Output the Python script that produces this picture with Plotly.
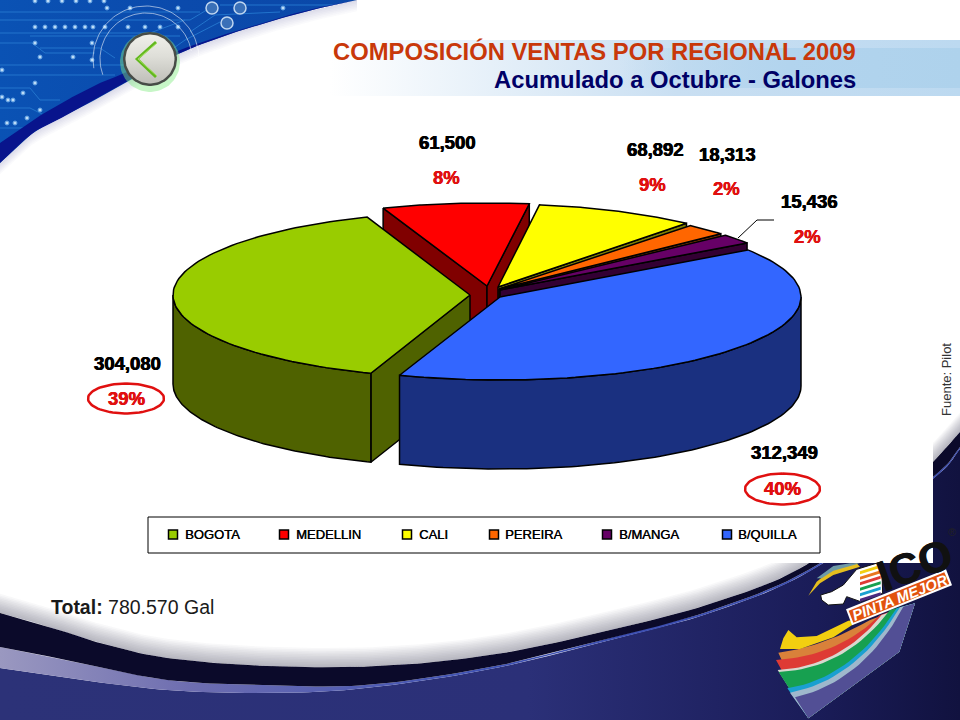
import numpy as np
import plotly.graph_objects as go

# ---------- chart data ----------
regions = ["BOGOTA", "MEDELLIN", "CALI", "PEREIRA", "B/MANGA", "B/QUILLA"]
galones = [304080, 61500, 68892, 18313, 15436, 312349]
top_colors = ["#99CC00", "#FF0000", "#FFFF00", "#FF6600", "#660066", "#3366FF"]
side_colors = ["#4F6200", "#800000", "#808000", "#803300", "#330033", "#1A3080"]
title_1 = "COMPOSICIÓN VENTAS POR REGIONAL 2009"
title_2 = "Acumulado a Octubre - Galones"
source_note = "Fuente: Pilot"
total_text = "<b>Total:</b> 780.570 Gal"

# ---------- pie geometry ----------
START_ANGLE = 199.5
RY, DEPTH = 83.0, 89.0
radii_x = [297, 300, 294, 297, 300, 301]
apexes = [(470, 295), (487, 286), (498, 287), (499, 289), (500, 290), (500, 297)]
paint_order = [1, 2, 3, 4, 0, 5]
value_label_pos = [(127, 363), (447, 142), (655, 149), (727, 154), (809, 201), (784, 452)]
pct_label_pos = [(126, 398), (446, 177), (652, 184), (726, 188), (807, 236), (782, 488)]
legend_swatch_x = [173, 284, 407, 494, 607, 727]
legend_text_x = [183, 294, 417, 503, 617, 736]

fig = go.Figure()


def poly(x, y, fill=None, line=None, width=0, grad=None):
    kw = dict(x=list(x), y=list(y), mode="lines", hoverinfo="skip", showlegend=False)
    if fill is not None or grad is not None:
        kw["fill"] = "toself"
    if fill is not None:
        kw["fillcolor"] = fill
    if grad is not None:
        kw["fillgradient"] = grad
    kw["line"] = dict(color=line or "rgba(0,0,0,0)", width=width)
    fig.add_trace(go.Scatter(**kw))


def smooth(pts, n=14):
    p = np.array(pts, float)
    p = np.vstack([2 * p[0] - p[1], p, 2 * p[-1] - p[-2]])
    out = []
    for i in range(1, len(p) - 2):
        for t in np.linspace(0, 1, n, endpoint=False):
            a, b, c, d = p[i - 1], p[i], p[i + 1], p[i + 2]
            out.append(0.5 * (2 * b + (c - a) * t + (2 * a - 5 * b + 4 * c - d) * t ** 2
                              + (3 * b - a - 3 * c + d) * t ** 3))
    out.append(p[-2])
    return np.array(out)


def circle(cx, cy, r, ry=None, a0=0, a1=360, n=80):
    t = np.radians(np.linspace(a0, a1, n))
    return cx + r * np.sin(t), cy - (ry or r) * np.cos(t)


def bez(a, c, b, n=24):
    t = np.linspace(0, 1, n)[:, None]
    a, b, c = map(lambda v: np.array(v, float), (a, b, c))
    return (1 - t) ** 2 * a + 2 * t * (1 - t) * c + t ** 2 * b


# ---------- slide background ----------
poly([0, 960, 960, 0, 0], [0, 0, 720, 720, 0], fill="#FFFFFF")

# circuit wedge, top left
poly([0, 365, 365, 0, 0], [0, 0, 170, 170, 0],
     grad=dict(type="horizontal", colorscale=[[0, "#0A52B4"], [0.5, "#0B4AAC"], [1, "#0A48A8"]]))
trace_lines = [
    [(0, 20), (190, 20), (215, 5)], [(0, 33), (120, 33), (150, 33), (185, 20)],
    [(0, 43), (32, 43), (45, 53), (95, 53)], [(0, 65), (150, 65), (185, 40), (220, 22)],
    [(0, 75), (115, 75)], [(0, 12), (200, 12)], [(30, 36), (180, 36)],
    [(0, 88), (30, 88), (40, 100), (60, 100)], [(0, 108), (30, 108), (50, 118)],
    [(190, 32), (215, 15), (280, 12)], [(40, 48), (100, 48), (115, 58)],
    [(0, 128), (25, 128), (40, 122)], [(220, 5), (340, 5)],
]
for seg in trace_lines:
    poly([p[0] for p in seg], [p[1] for p in seg], line="#2274CC", width=1)
pad_x = [35, 45, 55, 65, 75, 85, 93, 105, 128, 145, 160, 178, 107, 130, 178, 283, 92, 35, 40, 73, 92,
         2, 35, 23, 2, 8, 13, 40, 7, 15, 27, 35, 48, 62, 76, 90, 104]
pad_y = [27, 27, 27, 27, 27, 27, 27, 27, 27, 27, 27, 27, 8, 8, 8, 8, 43, 43, 57, 57, 60,
         70, 83, 93, 97, 100, 100, 110, 123, 123, 118, 1, 1, 1, 1, 1, 1]
fig.add_trace(go.Scatter(x=pad_x, y=pad_y, mode="markers", hoverinfo="skip", showlegend=False,
                         marker=dict(size=4, color="#BFDCF6", line=dict(color="#5A9CE0", width=1))))
fig.add_trace(go.Scatter(x=[212, 240, 227], y=[8, 8, 23], mode="markers", hoverinfo="skip", showlegend=False,
                         marker=dict(size=12, color="#3A70B8", line=dict(color="#BFD6F0", width=1.5))))

band_low = [(0, 163), (33, 133), (67, 115), (100, 97), (133, 78), (180, 53), (233, 33), (300, 13), (357, 0)]
band_up = [(0, 143), (33, 120), (67, 100), (100, 83), (120, 75), (180, 50), (233, 32), (300, 12), (357, 0)]
lo = smooth(band_low)
up = smooth(band_up)
poly(list(lo[:, 0]) + [365, 365, 0, 0], list(lo[:, 1]) + [0, 175, 175, lo[0, 1]], fill="#FFFFFF")
for k in range(1, 8):
    poly(list(lo[:, 0]) + list(lo[::-1, 0]), list(lo[:, 1] + k * 1.6) + list(lo[::-1, 1]),
         fill="rgba(90,90,170,0.03)")
poly(list(up[:, 0]) + list(lo[::-1, 0]), list(up[:, 1]) + list(lo[::-1, 1]), fill="#08148C")

# title band
poly([330, 960, 960, 330, 330], [40, 40, 96, 96, 40],
     grad=dict(type="horizontal", colorscale=[[0, "#FFFFFF"], [0.55, "#C9DFF2"], [1, "#BCD9F0"]]))
poly([620, 960, 960, 620, 620], [48, 48, 88, 88, 48],
     grad=dict(type="horizontal", colorscale=[[0, "rgba(174,210,236,0)"], [0.5, "#B2D4EE"], [1, "#AED2EC"]]))

# lower dark sweep
black_top = [(0, 613), (50, 627), (100, 643), (167, 658), (267, 666), (380, 666), (491, 655), (602, 632),
             (713, 603), (806, 565), (900, 492), (933, 462), (960, 432)]
black_low = [(0, 647), (67, 660), (167, 680), (267, 685), (367, 685), (491, 667), (602, 640),
             (713, 610), (817, 565), (933, 477), (960, 447)]
light_low = [(0, 668), (67, 678), (167, 690), (267, 693), (367, 688), (491, 669), (602, 642),
             (713, 612), (817, 567), (933, 479), (960, 449)]
bt, bl, ll = smooth(black_top), smooth(black_low), smooth(light_low)

poly(list(ll[:, 0]) + [960, 0, 0], list(ll[:, 1]) + [720, 720, ll[0, 1]],
     grad=dict(type="horizontal", colorscale=[[0, "#2C3278"], [0.55, "#2B3078"], [0.85, "#1A1C58"], [1, "#11123F"]]))
poly(list(bl[:, 0]) + list(ll[::-1, 0]), list(bl[:, 1]) + list(ll[::-1, 1]),
     grad=dict(type="horizontal", colorscale=[[0, "#9A98C0"], [0.2, "#6D6DB0"], [0.5, "#3F52B4"], [1, "#3A4CB0"]]))
poly(list(bt[:, 0]) + list(bl[::-1, 0]), list(bt[:, 1]) + list(bl[::-1, 1]), fill="#0B0A2A")
for k in range(1, 13):
    poly(list(bt[:, 0]) + list(bt[::-1, 0]), list(bt[:, 1] - k * 1.6) + list(bt[::-1, 1]),
         fill="rgba(80,80,110,0.04)")

# white panel hiding the sweep behind the legend
poly([700, 933, 933, 700, 700], [300, 300, 563, 563, 300], fill="#FFFFFF")

# back button
for r_ring, a0, a1 in [(53, -100, 105), (46, -110, 80)]:
    xr, yr = circle(146, 59, r_ring, a0=a0, a1=a1)
    poly(xr, yr, line="rgba(255,255,255,0.55)", width=1)
xb, yb = circle(150, 62, 30)
poly(xb, yb, fill="rgba(130,235,130,0.45)")
xb, yb = circle(150, 59, 27)
poly(xb, yb, fill="#474C47")
xb, yb = circle(150, 59, 24.5)
poly(xb, yb, grad=dict(type="vertical", colorscale=[[0, "#BEBEB8"], [0.55, "#DEDED8"], [1, "#F0F0EA"]]))
poly([156, 137, 156], [42, 59, 77], line="#62B81E", width=2.8)
poly([157, 138, 157], [43, 59, 76], line="#A6E060", width=1)

# ---------- logo ----------
def zx(p):
    return 700 + p[0] / 3, 500 + p[1] / 3


fan = [
    ("#D9813A", (235, 458), (368, 441), (510, 360)),
    ("#DE3A35", (228, 480), (416, 468), (540, 345)),
    ("#D8D8D0", (233, 510), (420, 500), (545, 345)),
    ("#17A050", (236, 516), (437, 507), (570, 330)),
    ("#1AA0D0", (262, 565), (454, 535), (590, 325)),
    ("#9FB8CC", (270, 578), (470, 540), (600, 322)),
    ("#524F95", (285, 592), (492, 544), (610, 320)),
]
fan_tip = (325, 655)
for i, (col, a, c, b) in enumerate(fan):
    curve = bez(a, c, b)
    xs = [700 + v / 3 for v in curve[:, 0]]
    ys = [500 + v / 3 for v in curve[:, 1]]
    bx, by = zx((645, 310)), zx((598, 455))
    tx, ty = zx(fan_tip)
    poly(xs + [bx[0], by[0], tx], ys + [bx[1], by[1], ty], fill=col)
tip = [(265, 390), (290, 412), (350, 408), (445, 362), (480, 360), (400, 412), (300, 447), (240, 447), (250, 415)]
poly([zx(p)[0] for p in tip], [zx(p)[1] for p in tip], fill="#F2CF10")
# upper swoosh
sw1 = [(325, 287), (350, 245), (400, 205), (470, 190), (480, 200), (400, 225), (360, 250)]
poly([zx(p)[0] for p in sw1], [zx(p)[1] for p in sw1], fill="#E5BE1E")
sw2 = [(350, 235), (400, 198), (450, 190), (480, 190), (400, 212), (365, 235)]
poly([zx(p)[0] for p in sw2], [zx(p)[1] for p in sw2], fill="#6E9AA6")
# brush
brush = [(365, 300), (362, 285), (395, 275), (430, 255), (470, 208), (545, 185), (548, 280), (482, 305),
         (440, 290), (430, 312), (385, 315)]
poly([zx(p)[0] for p in brush] + [zx(brush[0])[0]], [zx(p)[1] for p in brush] + [zx(brush[0])[1]],
     fill="#FFFFFF", line="#111111", width=1)
stripes = ["#F2CF10", "#E8761E", "#DE3A35", "#17A050", "#1AA0D0", "#4A2A80"]
for i, col in enumerate(stripes):
    y0 = 208 + i * 16.5
    pts = [(480, y0 + 6), (542, y0 - 14), (542, y0 - 5), (480, y0 + 15)]
    poly([zx(p)[0] for p in pts], [zx(p)[1] for p in pts], fill=col)
ban_o = [(438, 328), (738, 208), (756, 256), (456, 376), (438, 328)]
poly([zx(p)[0] for p in ban_o], [zx(p)[1] for p in ban_o], fill="#FFFFFF")
ban = [(446, 332), (733, 217), (748, 252), (460, 368), (446, 332)]
poly([zx(p)[0] for p in ban], [zx(p)[1] for p in ban], fill="#E2520E")

# ---------- 3-D pie, built from the values ----------
total = sum(galones)
spans = [v / total * 360.0 for v in galones]
starts = [START_ANGLE + sum(spans[:i]) for i in range(len(spans))]


def rim(c, rx, a0, a1, n=90):
    t = np.radians(np.linspace(a0, a1, n))
    return c[0] + rx * np.sin(t), c[1] - RY * np.cos(t)


def radial_face(c, rx, ang, col):
    x1, y1 = rim(c, rx, ang, ang, 1)
    poly([c[0], x1[0], x1[0], c[0], c[0]], [c[1], y1[0], y1[0] + DEPTH, c[1] + DEPTH, c[1]],
         fill=col, line="#000000", width=1.5)


for i in paint_order:
    a0, span, c, rx = starts[i], spans[i], apexes[i], radii_x[i]
    a1 = a0 + span
    if np.cos(np.radians(a0 - 90)) < 0:
        radial_face(c, rx, a0, side_colors[i])
    if np.cos(np.radians(a1 + 90)) < 0:
        radial_face(c, rx, a1, side_colors[i])
    for shift in (0, 360, -360):
        lo_a, hi_a = max(a0 + shift, 90), min(a1 + shift, 270)
        if lo_a < hi_a:
            xw, yw = rim(c, rx, lo_a, hi_a)
            poly(list(xw) + list(xw[::-1]) + [xw[0]],
                 list(yw) + list(yw[::-1] + DEPTH) + [yw[0]],
                 fill=side_colors[i], line="#000000", width=1.5)
    xt, yt = rim(c, rx, a0, a1)
    poly([c[0]] + list(xt) + [c[0]], [c[1]] + list(yt) + [c[1]],
         fill=top_colors[i], line="#000000", width=1.5)

# leader line for B/MANGA
poly([738, 757, 774], [238, 220, 220], line="#000000", width=1)

# highlight rings
for cx, cy, rx, ry in [(126, 398.5, 38, 15), (782.5, 489, 37.5, 15.5)]:
    xe, ye = circle(cx, cy, rx, ry)
    poly(xe, ye, line="#E01010", width=2.5)

# legend
poly([148, 820, 820, 148, 148], [517, 517, 553, 553, 517], fill="#FFFFFF", line="#000000", width=1)
fig.add_trace(go.Scatter(x=legend_swatch_x, y=[534.5] * 6, mode="markers", hoverinfo="skip", showlegend=False,
                         marker=dict(symbol="square", size=9, color=top_colors,
                                     line=dict(color="#000000", width=1.5))))

# ---------- text ----------
ann = []


def text(x, y, s, size, color, anchor="center", angle=0, shadow=None):
    font = dict(size=size, color=color, family="Liberation Sans")
    if shadow:
        font["shadow"] = shadow
    ann.append(dict(x=x, y=y, xref="x", yref="y", text=s, showarrow=False, xanchor=anchor, yanchor="middle",
                    align=anchor if anchor != "center" else "center", textangle=angle, font=font))


text(858, 51, "<b>%s</b>" % title_1, 23.8, "#C8380A", anchor="right")
text(858, 79.5, "<b>%s</b>" % title_2, 23.8, "#000066", anchor="right")
for v, (x, y) in zip(galones, value_label_pos):
    text(x, y, "<b>%s</b>" % f"{v:,}", 18.5, "#000000", shadow="0.4px 0 0 #000000, -0.4px 0 0 #000000")
for v, (x, y) in zip(galones, pct_label_pos):
    text(x, y, "<b>%d%%</b>" % round(v / total * 100), 18.5, "#E01010",
         shadow="0.3px 0 0 #E01010, -0.3px 0 0 #E01010")
for name, x in zip(regions, legend_text_x):
    text(x, 534, name, 13, "#000000", anchor="left", shadow="0.4px 0 0 #000000")
text(49, 607, total_text, 19.5, "#1A1A1A", anchor="left")
text(946, 380, source_note, 13, "#333333", angle=-90)
# logo wording
text(914, 565, "<b>ICO</b>", 43, "#111111", angle=-20, shadow="1px 0 0 #111111")
text(899, 597, "<b><i>PINTA MEJOR</i></b>", 15, "#FFFFFF", angle=-21.5)
text(952, 532, "®", 11, "#222222")

fig.update_layout(
    width=960, height=720, margin=dict(l=0, r=0, t=0, b=0),
    paper_bgcolor="#FFFFFF", plot_bgcolor="#FFFFFF", showlegend=False, annotations=ann,
    xaxis=dict(range=[0, 960], visible=False, fixedrange=True),
    yaxis=dict(range=[720, 0], visible=False, fixedrange=True),
)
fig.write_html("out.html", config=dict(displayModeBar=False),
               post_script="document.body.style.margin='0';document.body.style.overflow='hidden';")
